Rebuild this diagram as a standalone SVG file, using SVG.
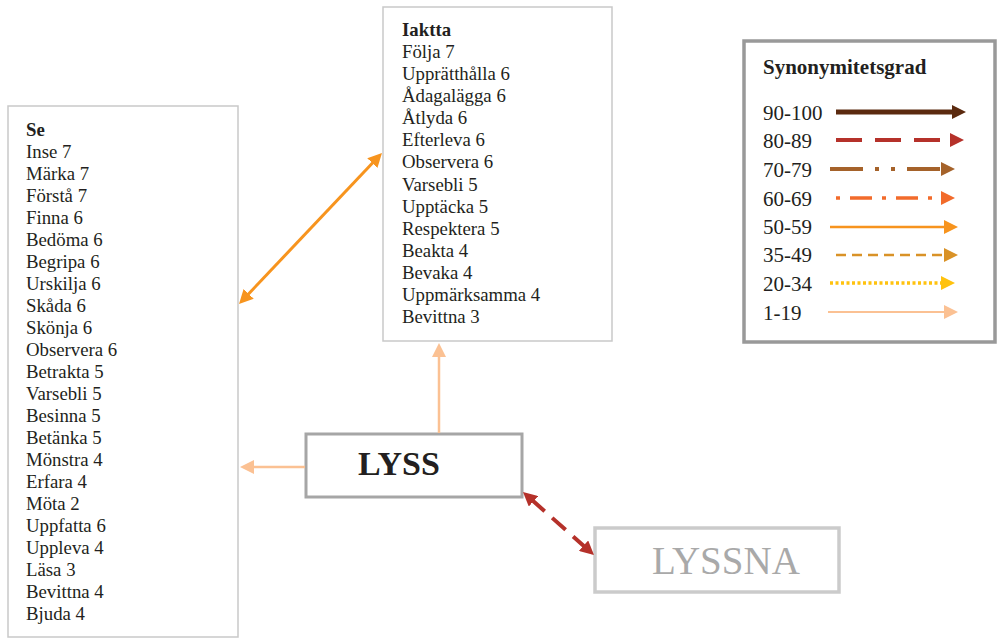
<svg xmlns="http://www.w3.org/2000/svg" width="999" height="638" viewBox="0 0 999 638">
<style>
.t{font-family:'Liberation Serif','Times New Roman',serif;fill:#231f20;font-size:18.8px}
.b{font-weight:bold}
.lg{font-family:'Liberation Serif','Times New Roman',serif;fill:#231f20;font-size:21px}
.box{fill:#fff;stroke:#c9c9c9;stroke-width:1.5}
line{fill:none;stroke-linecap:butt}
</style>
<defs>
<marker id="m1" markerUnits="userSpaceOnUse" markerWidth="14" markerHeight="14" viewBox="0 0 14 14" refX="3" refY="7" orient="auto-start-reverse"><path d="M0,0L14,7L0,14z" fill="#5b2a0f"/></marker>
<marker id="m2" markerUnits="userSpaceOnUse" markerWidth="14" markerHeight="14" viewBox="0 0 14 14" refX="3" refY="7" orient="auto-start-reverse"><path d="M0,0L14,7L0,14z" fill="#b5312a"/></marker>
<marker id="m3" markerUnits="userSpaceOnUse" markerWidth="14" markerHeight="14" viewBox="0 0 14 14" refX="3" refY="7" orient="auto-start-reverse"><path d="M0,0L14,7L0,14z" fill="#a5622a"/></marker>
<marker id="m4" markerUnits="userSpaceOnUse" markerWidth="14" markerHeight="14" viewBox="0 0 14 14" refX="3" refY="7" orient="auto-start-reverse"><path d="M0,0L14,7L0,14z" fill="#f26b2b"/></marker>
<marker id="m5" markerUnits="userSpaceOnUse" markerWidth="14" markerHeight="14" viewBox="0 0 14 14" refX="3" refY="7" orient="auto-start-reverse"><path d="M0,0L14,7L0,14z" fill="#f7941e"/></marker>
<marker id="m6" markerUnits="userSpaceOnUse" markerWidth="14" markerHeight="14" viewBox="0 0 14 14" refX="3" refY="7" orient="auto-start-reverse"><path d="M0,0L14,7L0,14z" fill="#d99227"/></marker>
<marker id="m7" markerUnits="userSpaceOnUse" markerWidth="14" markerHeight="14" viewBox="0 0 14 14" refX="3" refY="7" orient="auto-start-reverse"><path d="M0,0L14,7L0,14z" fill="#ffc20e"/></marker>
<marker id="m8" markerUnits="userSpaceOnUse" markerWidth="14" markerHeight="14" viewBox="0 0 14 14" refX="3" refY="7" orient="auto-start-reverse"><path d="M0,0L14,7L0,14z" fill="#fbc193"/></marker>
</defs>
<rect width="999" height="638" fill="#fff"/>

<g id="node-se">
<rect class="box" x="8" y="106" width="230" height="531"/>
<text class="t" x="26" y="136"><tspan class="b">Se</tspan><tspan x="26" dy="22">Inse 7</tspan><tspan x="26" dy="22">Märka 7</tspan><tspan x="26" dy="22">Förstå 7</tspan><tspan x="26" dy="22">Finna 6</tspan><tspan x="26" dy="22">Bedöma 6</tspan><tspan x="26" dy="22">Begripa 6</tspan><tspan x="26" dy="22">Urskilja 6</tspan><tspan x="26" dy="22">Skåda 6</tspan><tspan x="26" dy="22">Skönja 6</tspan><tspan x="26" dy="22">Observera 6</tspan><tspan x="26" dy="22">Betrakta 5</tspan><tspan x="26" dy="22">Varsebli 5</tspan><tspan x="26" dy="22">Besinna 5</tspan><tspan x="26" dy="22">Betänka 5</tspan><tspan x="26" dy="22">Mönstra 4</tspan><tspan x="26" dy="22">Erfara 4</tspan><tspan x="26" dy="22">Möta 2</tspan><tspan x="26" dy="22">Uppfatta 6</tspan><tspan x="26" dy="22">Uppleva 4</tspan><tspan x="26" dy="22">Läsa 3</tspan><tspan x="26" dy="22">Bevittna 4</tspan><tspan x="26" dy="22">Bjuda 4</tspan></text>
</g>

<g id="node-iaktta">
<rect class="box" x="383" y="7" width="229" height="334"/>
<text class="t" x="402" y="36"><tspan class="b">Iaktta</tspan><tspan x="402" dy="22.08">Följa 7</tspan><tspan x="402" dy="22.08">Upprätthålla 6</tspan><tspan x="402" dy="22.08">Ådagalägga 6</tspan><tspan x="402" dy="22.08">Åtlyda 6</tspan><tspan x="402" dy="22.08">Efterleva 6</tspan><tspan x="402" dy="22.08">Observera 6</tspan><tspan x="402" dy="22.08">Varsebli 5</tspan><tspan x="402" dy="22.08">Upptäcka 5</tspan><tspan x="402" dy="22.08">Respektera 5</tspan><tspan x="402" dy="22.08">Beakta 4</tspan><tspan x="402" dy="22.08">Bevaka 4</tspan><tspan x="402" dy="22.08">Uppmärksamma 4</tspan><tspan x="402" dy="22.08">Bevittna 3</tspan></text>
</g>

<g id="node-lyss">
<rect x="306" y="434" width="216" height="63" fill="#fff" stroke="#a6a6a6" stroke-width="3"/>
<text class="t b" x="358" y="475" style="font-size:34px">LYSS</text>
</g>

<g id="node-lyssna">
<rect x="595" y="528" width="244" height="64" fill="#fff" stroke="#cbcbcb" stroke-width="3.5"/>
<text x="652" y="574" style="font-family:'Liberation Serif','Times New Roman',serif;font-size:39px;fill:#a9a9a9">LYSSNA</text>
</g>

<g id="legend">
<rect x="744" y="41" width="251" height="301" fill="#fff" stroke="#999" stroke-width="3.5"/>
<text class="lg b" x="763" y="74" style="font-size:21px">Synonymitetsgrad</text>
<text class="lg" x="763" y="120">90-100</text>
<text class="lg" x="763" y="148">80-89</text>
<text class="lg" x="763" y="177">70-79</text>
<text class="lg" x="763" y="206">60-69</text>
<text class="lg" x="763" y="234">50-59</text>
<text class="lg" x="763" y="262">35-49</text>
<text class="lg" x="763" y="291">20-34</text>
<text class="lg" x="763" y="320">1-19</text>
<line x1="836" y1="112" x2="955" y2="112" stroke="#5b2a0f" stroke-width="5" marker-end="url(#m1)"/>
<line x1="836" y1="140" x2="953" y2="140" stroke="#b5312a" stroke-width="4" stroke-dasharray="26 13" marker-end="url(#m2)"/>
<line x1="830" y1="169" x2="944" y2="169" stroke="#a5622a" stroke-width="4" stroke-dasharray="33 12 4 12 4 12" marker-end="url(#m3)"/>
<line x1="836" y1="198" x2="944" y2="198" stroke="#f26b2b" stroke-width="3.5" stroke-dasharray="4 10 22 10" marker-end="url(#m4)"/>
<line x1="830" y1="227" x2="947" y2="227" stroke="#f7941e" stroke-width="2.5" marker-end="url(#m5)"/>
<line x1="836" y1="255" x2="947" y2="255" stroke="#d99227" stroke-width="2.5" stroke-dasharray="10 6" marker-end="url(#m6)"/>
<line x1="830" y1="283" x2="944" y2="283" stroke="#ffc20e" stroke-width="3.5" stroke-dasharray="3 2.5" marker-end="url(#m7)"/>
<line x1="828" y1="312" x2="947" y2="312" stroke="#fbc193" stroke-width="2" marker-end="url(#m8)"/>
</g>

<g id="connectors">
<line x1="246.6" y1="296" x2="374.4" y2="161" stroke="#f7941e" stroke-width="3" marker-start="url(#m5)" marker-end="url(#m5)"/>
<line x1="439" y1="433" x2="439" y2="354" stroke="#fbc193" stroke-width="2.5" marker-end="url(#m8)"/>
<line x1="305" y1="467" x2="251" y2="467" stroke="#fbc193" stroke-width="2.5" marker-end="url(#m8)"/>
<line x1="531.2" y1="499.3" x2="585.8" y2="547.7" stroke="#b5312a" stroke-width="4" stroke-dasharray="18 10" marker-start="url(#m2)" marker-end="url(#m2)"/>
</g>
</svg>
